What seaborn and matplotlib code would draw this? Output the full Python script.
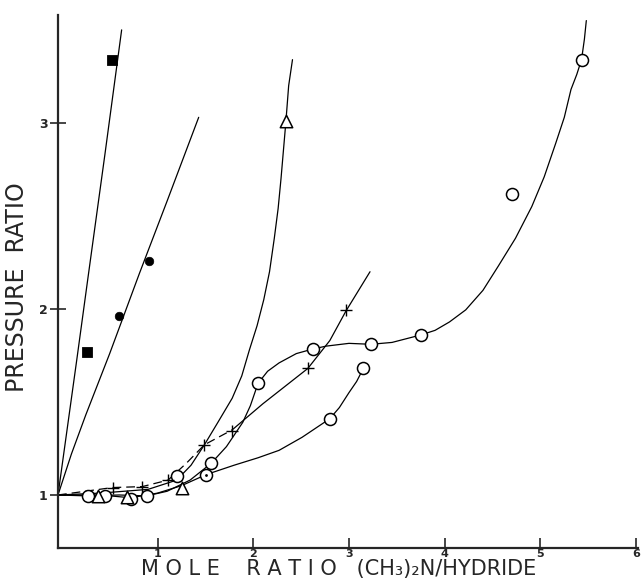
import numpy as np
import pandas as pd
import seaborn as sns
import matplotlib.pyplot as plt

# Measured points (mole ratio, pressure ratio)
square_x = [0.26, 0.52]
square_y = [1.77, 3.34]
dot_x = [0.60, 0.91]
dot_y = [1.96, 2.26]
tri_x = [0.375, 0.68, 1.26, 2.34]
tri_y = [0.995, 0.99, 1.04, 3.01]
plus_x = [0.53, 0.84, 1.11, 1.49, 1.78, 2.57, 2.97]
plus_y = [1.04, 1.045, 1.08, 1.27, 1.345, 1.68, 1.995]
circle_x = [0.27, 0.45, 0.72, 0.885, 1.20, 1.56, 1.51, 2.05, 2.625, 3.23, 3.75, 4.70, 5.43, 2.80, 3.15]
circle_y = [0.995, 0.995, 0.98, 0.995, 1.10, 1.17, 1.11, 1.60, 1.785, 1.81, 1.86, 2.62, 3.34, 1.41, 1.68]

# Hand-drawn curves
square_curve_x = [-0.04, 0.156, 0.27, 0.45, 0.625]
square_curve_y = [1.0, 1.726, 2.156, 2.83, 3.50]
dot_curve_x = [-0.04, 0.1, 0.25, 0.5, 0.81, 1.1, 1.43]
dot_curve_y = [1.0, 1.22, 1.43, 1.76, 2.19, 2.58, 3.03]
tri_curve_x = [-0.04, 0.4, 0.9, 1.2, 1.35, 1.49, 1.63, 1.78, 1.88, 1.96, 2.04, 2.11, 2.17,
               2.22, 2.26, 2.29, 2.34, 2.37, 2.41]
tri_curve_y = [1.0, 1.01, 1.03, 1.08, 1.16, 1.27, 1.39, 1.52, 1.64, 1.78, 1.91, 2.05, 2.20,
               2.38, 2.54, 2.70, 3.0, 3.2, 3.34]
plus_curve_x = [-0.04, 0.53, 0.84, 1.11, 1.30, 1.49, 1.78, 2.1, 2.57, 2.8, 2.97, 3.22]
plus_curve_y = [1.0, 1.04, 1.045, 1.08, 1.17, 1.27, 1.35, 1.49, 1.68, 1.83, 1.99, 2.20]
big_curve_x = [-0.04, 0.27, 0.6, 0.885, 1.1, 1.34, 1.56, 1.72, 1.89, 1.97, 2.05, 2.15, 2.27,
               2.45, 2.625, 2.76, 3.0, 3.23, 3.45, 3.75, 3.9, 4.05, 4.22, 4.4, 4.56, 4.74,
               4.91, 5.04, 5.16, 5.25, 5.32, 5.38, 5.43, 5.46, 5.48]
big_curve_y = [1.0, 0.995, 1.0, 0.995, 1.02, 1.08, 1.17, 1.26, 1.39, 1.48, 1.60, 1.665, 1.71,
               1.76, 1.785, 1.80, 1.815, 1.81, 1.82, 1.86, 1.885, 1.93, 1.995, 2.10, 2.23, 2.38,
               2.55, 2.71, 2.89, 3.03, 3.18, 3.26, 3.34, 3.45, 3.55]
low_curve_x = [-0.04, 0.4, 0.72, 1.0, 1.25, 1.51, 1.8, 2.05, 2.27, 2.51, 2.80, 2.9, 3.0, 3.08, 3.15]
low_curve_y = [1.0, 1.0, 0.985, 1.01, 1.05, 1.11, 1.16, 1.20, 1.24, 1.31, 1.41, 1.47, 1.55, 1.61, 1.68]

x_ticks = [1, 2, 3, 4, 5, 6]
y_ticks = [1, 2, 3]

sns.set_style('ticks')
fig = plt.figure(figsize=(6.41, 5.83), dpi=100)
ax = fig.add_axes([58 / 641, 35 / 583, 580 / 641, 533 / 583])

line_kw = dict(color='black', linewidth=0.9, sort=False, estimator=None, ax=ax, legend=False)
sns.lineplot(x=square_curve_x, y=square_curve_y, **line_kw)
sns.lineplot(x=dot_curve_x, y=dot_curve_y, **line_kw)
sns.lineplot(x=tri_curve_x, y=tri_curve_y, **line_kw)
sns.lineplot(x=big_curve_x, y=big_curve_y, **line_kw)
sns.lineplot(x=low_curve_x, y=low_curve_y, **line_kw)
# the plus curve is dashed near the bottom, solid above
sns.lineplot(x=plus_curve_x[:7], y=plus_curve_y[:7], **line_kw)
ax.lines[-1].set_dashes([7, 4])
sns.lineplot(x=plus_curve_x[6:], y=plus_curve_y[6:], **line_kw)

sns.scatterplot(x=square_x, y=square_y, marker='s', s=55, color='black', edgecolor='black', ax=ax, zorder=4)
sns.scatterplot(x=dot_x, y=dot_y, marker='o', s=38, color='black', edgecolor='black', ax=ax, zorder=4)
sns.scatterplot(x=circle_x, y=circle_y, marker='o', s=75, facecolor='white', edgecolor='black',
                linewidth=1.1, ax=ax, zorder=4)
sns.scatterplot(x=tri_x, y=tri_y, marker='^', s=80, facecolor='white', edgecolor='black',
                linewidth=1.1, ax=ax, zorder=4)
sns.scatterplot(x=plus_x, y=plus_y, marker='+', s=80, color='black', linewidth=1.0, ax=ax, zorder=4)
ax.plot(circle_x[6], circle_y[6], marker='.', markersize=2, color='black', zorder=5)

ax.set_xlim(-0.04, 6.02)
ax.set_ylim(0.715, 3.58)
ax.set_xticks(x_ticks)
ax.set_yticks(y_ticks)
ax.set_xticklabels([str(t) for t in x_ticks], fontsize=8, fontweight='bold')
ax.set_yticklabels([str(t) for t in y_ticks], fontsize=9, fontweight='bold')
ax.tick_params(axis='x', direction='in', length=7, width=1.2, pad=1)
ax.tick_params(axis='y', direction='inout', length=11, width=1.2, pad=2)
sns.despine(ax=ax)
for side in ['left', 'bottom']:
    ax.spines[side].set_linewidth(1.6)

label_font = ['Liberation Sans Narrow', 'DejaVu Sans']
ax.set_xlabel('M O L E    R A T I O   (CH₃)₂N/HYDRIDE', fontsize=15, family=label_font, va='top')
ax.xaxis.set_label_coords(0.484, -0.021)
ax.set_ylabel('PRESSURE  RATIO', fontsize=17, family=label_font)
ax.yaxis.set_label_coords(-0.05, 0.49)

plt.savefig('out.png', dpi=100)
plt.close()
